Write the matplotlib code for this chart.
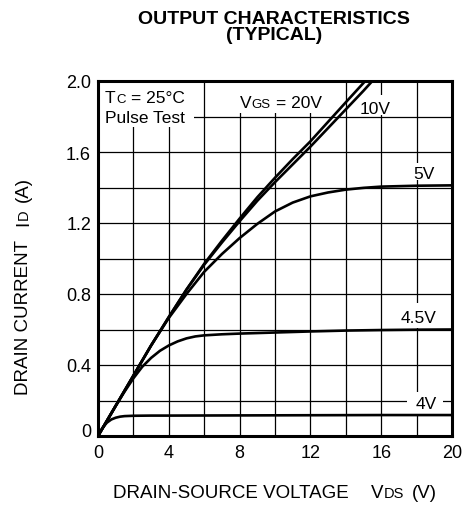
import matplotlib
matplotlib.use("Agg")
import matplotlib.pyplot as plt
from matplotlib.patches import Rectangle
from matplotlib.transforms import IdentityTransform
import numpy as np

plt.rcParams['font.family'] = ['Liberation Sans', 'DejaVu Sans']

# ---------------- data ----------------
vds_20 = [0, 1, 2, 3, 4, 5, 6, 7, 8, 9, 10, 11, 12, 13, 14, 15.1]
id_20 = [0, 0.17, 0.34, 0.51, 0.67, 0.825, 0.97, 1.10, 1.225, 1.345, 1.455,
         1.56, 1.66, 1.77, 1.88, 2.0]

vds_10 = [0, 1, 2, 3, 4, 5, 6, 7, 8, 9, 10, 11, 12, 13, 14, 15, 15.5]
id_10 = [0, 0.17, 0.34, 0.51, 0.67, 0.825, 0.965, 1.09, 1.21, 1.325, 1.43,
         1.53, 1.63, 1.735, 1.84, 1.945, 2.0]

vds_5 = [0, 1, 2, 3, 4, 5, 6, 7, 8, 9, 10, 11, 12, 13, 14, 15, 16, 18, 20]
id_5 = [0, 0.17, 0.34, 0.51, 0.665, 0.80, 0.925, 1.025, 1.115, 1.195, 1.265,
        1.315, 1.35, 1.372, 1.388, 1.398, 1.405, 1.41, 1.412]

vds_45 = [0, 1, 1.5, 2, 2.5, 3, 3.5, 4, 4.5, 5, 5.5, 6, 7, 8, 10, 12, 14, 16, 18, 20]
id_45 = [0, 0.17, 0.25, 0.325, 0.39, 0.44, 0.48, 0.51, 0.533, 0.55, 0.561,
         0.567, 0.573, 0.577, 0.583, 0.589, 0.594, 0.597, 0.599, 0.600]

vds_4 = [0, 0.25, 0.5, 0.75, 1, 1.25, 1.5, 2, 3, 4, 8, 12, 16, 20]
id_4 = [0, 0.045, 0.075, 0.093, 0.103, 0.109, 0.112, 0.114, 0.115, 0.115,
        0.116, 0.117, 0.118, 0.118]

x_ticks = [0, 4, 8, 12, 16, 20]
x_ticklabels = ["0", "4", "8", "12", "16", "20"]
y_ticks = [0, 0.4, 0.8, 1.2, 1.6, 2.0]
y_ticklabels = ["0", "0.4", "0.8", "1.2", "1.6", "2.0"]

title_lines = ["OUTPUT CHARACTERISTICS", "(TYPICAL)"]

# ---------------- figure ----------------
W, H = 466, 510
fig = plt.figure(figsize=(W / 100, H / 100), dpi=100)
L, R, T, B = 98, 452, 82, 437
ax = fig.add_axes([L / W, 1 - B / H, (R - L) / W, (B - T) / H])
ax.set_xlim(0, 20)
ax.set_ylim(0, 2.0)

ax.set_xticks(x_ticks)
ax.set_xticklabels(x_ticklabels)
ax.set_xticks(np.arange(2, 20, 4), minor=True)
ax.set_yticks(y_ticks)
ax.set_yticklabels(y_ticklabels)
ax.set_yticks(np.arange(0.2, 2.0, 0.4), minor=True)
ax.tick_params(which='both', length=0)
ax.tick_params(axis='x', pad=5.5, labelsize=13)
ax.tick_params(axis='y', pad=5, labelsize=13)
ax.get_yticklabels()[0].set_va('baseline')

ax.set_axisbelow(True)
ax.grid(True, which='both', color='black', linewidth=0.9)
for s in ax.spines.values():
    s.set_linewidth(2.2)
    s.set_zorder(6)

# white label backgrounds (cover the grid)
boxes = [(0, 1.74, 5.4, 0.26), (7.7, 1.82, 5.3, 0.17), (14.6, 1.81, 2.0, 0.11),
         (17.8, 1.44, 1.5, 0.10), (17.0, 0.61, 2.4, 0.14), (17.45, 0.125, 2.05, 0.125)]
for bx, by, bw, bh in boxes:
    ax.add_patch(Rectangle((bx, by), bw, bh, facecolor='white', edgecolor='none', zorder=1.5))

lw = 1.9
for xs, ys in [(vds_20, id_20), (vds_10, id_10), (vds_5, id_5), (vds_45, id_45), (vds_4, id_4)]:
    ax.plot(xs, ys, color='black', linewidth=lw, zorder=3,
            solid_joinstyle='round', solid_capstyle='round')

renderer = fig.canvas.get_renderer()


def rich(x, y, parts, ha='left', rotation=0, weight='normal'):
    """x,y in display px; parts = (text, fontsize, gap_before_px)."""
    texts, lens = [], []
    for s, fs, gap in parts:
        t = fig.text(0, 0, s, fontsize=fs, weight=weight, ha='left', va='baseline',
                     rotation=rotation, rotation_mode='anchor',
                     transform=IdentityTransform(), zorder=7)
        bb = t.get_window_extent(renderer)
        lens.append(bb.height if rotation == 90 else bb.width)
        texts.append(t)
    total = sum(lens) + sum(p[2] for p in parts)
    start = (x if rotation == 0 else y) - {'left': 0, 'center': total / 2, 'right': total}[ha]
    pos = start
    for t, ln, p in zip(texts, lens, parts):
        pos += p[2]
        if rotation == 90:
            t.set_position((x, pos))
        else:
            t.set_position((pos, y))
        pos += ln


def dpx(xd, yd):
    return ax.transData.transform((xd, yd))


fs_a, fs_s = 12.5, 9.5
# in-axes annotations
px, py = dpx(0.4, 1.88)
rich(px, py, [("T", fs_a, 0), ("C", fs_s, 0.8), ("= 25°C", fs_a, 5)])
px, py = dpx(0.4, 1.77)
rich(px, py, [("Pulse Test", fs_a, 0)])
px, py = dpx(8.0, 1.855)
rich(px, py, [("V", fs_a, 0), ("GS", fs_s, 0.5), ("= 20V", fs_a, 5)])
px, py = dpx(14.8, 1.82)
rich(px, py, [("10V", fs_a, 0)])
px, py = dpx(19.0, 1.455)
rich(px, py, [("5V", fs_a, 0)], ha='right')
px, py = dpx(19.15, 0.64)
rich(px, py, [("4.5V", fs_a, 0)], ha='right')
px, py = dpx(19.15, 0.157)
rich(px, py, [("4V", fs_a, 0)], ha='right')

# axis labels
rich(275, H - 498, [("DRAIN-SOURCE VOLTAGE", 13.5, 0), ("V", 13.5, 22), ("DS", 10.5, 0.5),
                    ("(V)", 13.5, 7)], ha='center')
rich(28, H - 286, [("DRAIN CURRENT", 13.5, 0), ("I", 13.5, 14), ("D", 10.5, 1),
                   ("(A)", 13.5, 7)], ha='center', rotation=90)

# title
rich(274, H - 24, [(title_lines[0], 14, 0)], ha='center', weight='bold')
rich(274, H - 40.5, [(title_lines[1], 14, 0)], ha='center', weight='bold')

fig.savefig("out.png", dpi=100, facecolor='white')
